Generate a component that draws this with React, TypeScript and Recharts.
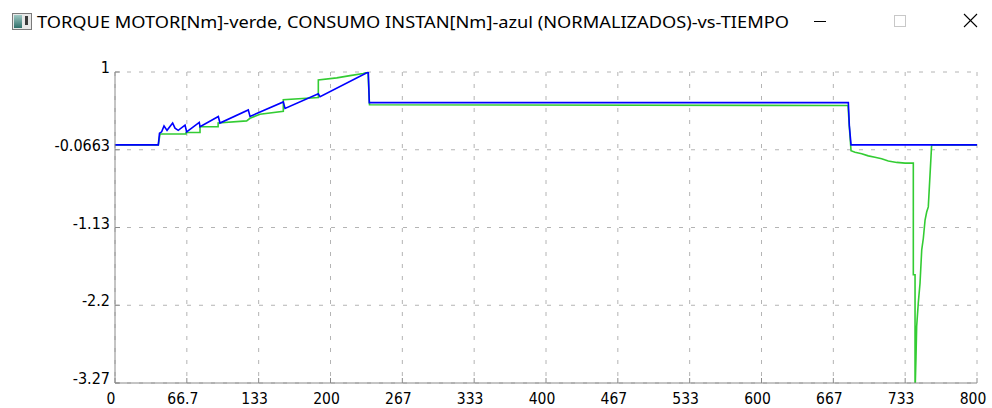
import React from 'react';
import { LineChart, Line, XAxis, YAxis, CartesianGrid } from 'recharts';

// tiempo / valores normalizados
const TIME_BLUE = [0, 40.2, 41.3, 43.3, 45.5, 48.3, 53.5, 55.7, 58.7, 65.0, 66.5, 78.2, 78.9, 95.9, 97.4, 123.7, 125.3, 156.2, 157.8, 188.7, 190.3, 235.1, 236.0, 680.6, 681.5, 683.1, 800];
const CONSUMO = [0, 0, 0.16, 0.18, 0.26, 0.2, 0.3, 0.23, 0.2, 0.27, 0.18, 0.31, 0.25, 0.39, 0.3, 0.48, 0.39, 0.59, 0.5, 0.7, 0.66, 1.0, 0.58, 0.58, 0.27, 0, 0];

const TIME_GREEN = [0, 40.2, 41.8, 65.9, 65.9, 78.9, 78.9, 95.7, 95.7, 122.2, 125.3, 134.6, 156.2, 156.2, 188.7, 188.7, 205.8, 218.1, 230.4, 234.8, 236.2, 680.3, 681.5, 683.1, 686.8, 693.0, 699.1, 705.3, 711.5, 717.7, 725.5, 733.2, 740.9, 740.9, 742.5, 742.5, 743.4, 744.0, 745.5, 747.1, 748.7, 750.2, 751.8, 753.3, 754.8, 757.9, 800];
const TORQUE = [0, 0, 0.15, 0.15, 0.17, 0.17, 0.25, 0.25, 0.3, 0.33, 0.365, 0.42, 0.46, 0.62, 0.65, 0.89, 0.92, 0.95, 0.98, 1.0, 0.55, 0.54, 0.25, -0.08, -0.1, -0.12, -0.15, -0.17, -0.19, -0.22, -0.24, -0.25, -0.25, -1.78, -1.78, -3.4, -2.9, -2.49, -2.17, -1.9, -1.44, -1.28, -1.03, -0.92, -0.85, 0, 0];

const X_TICKS = [0, 66.667, 133.333, 200, 266.667, 333.333, 400, 466.667, 533.333, 600, 666.667, 733.333, 800];
const X_LABELS = ['0', '66.7', '133', '200', '267', '333', '400', '467', '533', '600', '667', '733', '800'];
const Y_TICKS = [1, -0.0663, -1.1326, -2.1989, -3.2652];
const Y_LABELS = ['1', '-0.0663', '-1.13', '-2.2', '-3.27'];

const TITLE = 'TORQUE MOTOR[Nm]-verde, CONSUMO INSTAN[Nm]-azul (NORMALIZADOS)-vs-TIEMPO';

const blueData = TIME_BLUE.map((t, i) => ({ t, v: CONSUMO[i] }));
const greenData = TIME_GREEN.map((t, i) => ({ t, v: TORQUE[i] }));

const AXIS = '#8a8a8a';
const FONT = "'Liberation Sans Narrow', 'DejaVu Sans Condensed', 'Arial Narrow', sans-serif";

const nearest = (arr: number[], v: number) => {
  let best = 0;
  arr.forEach((a, i) => { if (Math.abs(a - v) < Math.abs(arr[best] - v)) best = i; });
  return best;
};

const BottomTick = (p: any) => {
  const { x, y, payload } = p;
  return (
    <g>
      <line x1={x} x2={x} y1={y} y2={y - 5} stroke={AXIS} />
      <text x={x - 4} y={y + 21} textAnchor="middle" fontFamily={FONT} fontSize={15.5} fill="#000">
        {X_LABELS[nearest(X_TICKS, payload.value)]}
      </text>
    </g>
  );
};

const LeftTick = (p: any) => {
  const { x, y, payload } = p;
  return (
    <g>
      <line x1={x} x2={x + 5} y1={y} y2={y} stroke={AXIS} />
      <text x={x - 5} y={y + 1} textAnchor="end" fontFamily={FONT} fontSize={16} fill="#000">
        {Y_LABELS[nearest(Y_TICKS, payload.value)]}
      </text>
    </g>
  );
};

const TopTick = (p: any) => <line x1={p.x} x2={p.x} y1={p.y} y2={p.y + 5} stroke={AXIS} />;
const RightTick = (p: any) => <line x1={p.x} x2={p.x - 5} y1={p.y} y2={p.y} stroke={AXIS} />;

export default function App() {
  return (
    <div style={{ position: 'absolute', left: 0, top: 0, width: 992, height: 408, background: '#fff' }}>
      <div style={{ position: 'absolute', left: 0, top: 0 }}>
        <LineChart width={992} height={408} margin={{ top: 72, right: 15, bottom: 0, left: 0 }}>
          <CartesianGrid stroke="#b4b4b4" strokeDasharray="4 8" />
          <XAxis
            type="number"
            dataKey="t"
            domain={[0, 800]}
            ticks={X_TICKS}
            interval={0}
            height={25}
            tickSize={0}
            tickMargin={0}
            tick={BottomTick}
            axisLine={{ stroke: AXIS }}
            allowDataOverflow
          />
          <XAxis
            xAxisId="top"
            orientation="top"
            type="number"
            dataKey="t"
            domain={[0, 800]}
            ticks={X_TICKS}
            interval={0}
            height={0}
            tickSize={0}
            tickMargin={0}
            tick={TopTick}
            axisLine={{ stroke: AXIS }}
          />
          <YAxis
            type="number"
            domain={[-3.2652, 1]}
            ticks={Y_TICKS}
            interval={0}
            width={115}
            tickSize={0}
            tickMargin={0}
            tick={LeftTick}
            axisLine={{ stroke: AXIS }}
            allowDataOverflow
          />
          <YAxis
            yAxisId="right"
            orientation="right"
            type="number"
            domain={[-3.2652, 1]}
            ticks={Y_TICKS}
            interval={0}
            width={0}
            tickSize={0}
            tickMargin={0}
            tick={RightTick}
            axisLine={{ stroke: AXIS }}
          />
          <Line data={greenData} dataKey="v" type="linear" stroke="#33cc33" strokeWidth={1.6} dot={false} activeDot={false} isAnimationActive={false} />
          <Line data={blueData} dataKey="v" type="linear" stroke="#0000ff" strokeWidth={1.6} dot={false} activeDot={false} isAnimationActive={false} />
        </LineChart>
      </div>
      <svg width={992} height={50} style={{ position: 'absolute', left: 0, top: 0 }}>
        <defs>
          <linearGradient id="ico" x1="0" x2="0" y1="0" y2="1">
            <stop offset="0" stopColor="#9fc9c4" />
            <stop offset="1" stopColor="#2f6f6a" />
          </linearGradient>
        </defs>
        <rect x={12.5} y={13.5} width={19} height={16} fill="#e8e8e8" stroke="#7a7a7a" />
        <rect x={14} y={15} width={8} height={13} fill="url(#ico)" />
        <rect x={25} y={16} width={3} height={9} fill="#3a3a3a" />
        <text x={37} y={28} fontFamily="'Noto Sans', 'Open Sans', sans-serif" fontSize={16} fill="#000" textLength={752} lengthAdjust="spacingAndGlyphs">
          {TITLE}
        </text>
        <line x1={814} x2={826} y1={21.5} y2={21.5} stroke="#000" />
        <rect x={894.5} y={15.5} width={11} height={11} fill="none" stroke="#c8c8c8" />
        <line x1={964} x2={977} y1={14} y2={27} stroke="#000" strokeWidth={1.1} />
        <line x1={977} x2={964} y1={14} y2={27} stroke="#000" strokeWidth={1.1} />
      </svg>
    </div>
  );
}
